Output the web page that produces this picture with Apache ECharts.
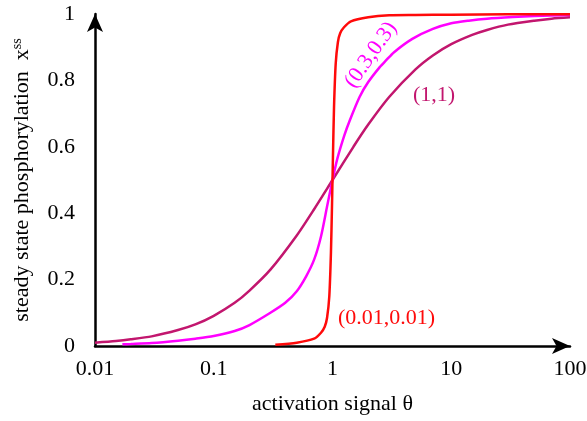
<!DOCTYPE html>
<html>
<head>
<meta charset="utf-8">
<script src="https://cdn.jsdelivr.net/npm/echarts@6/dist/echarts.min.js"></script>
<style>
  html, body { margin: 0; padding: 0; background: #fff; }
  #main { width: 587px; height: 421px; }
</style>
</head>
<body>
<div id="main"></div>
<script>
// values
var theta11 = [0.01, 0.015, 0.02, 0.03, 0.05, 0.07, 0.1, 0.15, 0.2, 0.3, 0.5, 0.7, 1, 1.5, 2, 3, 5, 7, 10, 15, 20, 30, 50, 70, 100];
var x11 = [0.01, 0.015, 0.02, 0.029, 0.048, 0.065, 0.091, 0.13, 0.167, 0.23, 0.333, 0.412, 0.5, 0.6, 0.667, 0.75, 0.833, 0.875, 0.909, 0.937, 0.952, 0.968, 0.98, 0.986, 0.99];

var theta03 = [0.017, 0.02, 0.03, 0.05, 0.07, 0.1, 0.15, 0.2, 0.3, 0.4, 0.5, 0.6, 0.7, 0.8, 0.9, 1, 1.1, 1.26, 1.4, 1.69, 2, 2.5, 2.82, 3.3, 4.7, 7, 10, 14, 20, 33, 50, 100];
var x03 = [0.005, 0.006, 0.009, 0.016, 0.022, 0.03, 0.045, 0.063, 0.1, 0.13, 0.165, 0.21, 0.26, 0.33, 0.42, 0.5, 0.565, 0.635, 0.68, 0.75, 0.795, 0.84, 0.86, 0.885, 0.925, 0.955, 0.972, 0.98, 0.986, 0.991, 0.994, 0.997];

var theta001 = [0.33, 0.5, 0.7, 0.8, 0.86, 0.9, 0.94, 0.97, 0.99, 1, 1.01, 1.03, 1.064, 1.11, 1.16, 1.25, 1.43, 2, 3, 5, 10, 30, 100];
var x001 = [0.004, 0.01, 0.022, 0.04, 0.058, 0.085, 0.15, 0.28, 0.42, 0.5, 0.58, 0.72, 0.85, 0.915, 0.942, 0.96, 0.978, 0.99, 0.996, 0.997, 0.998, 0.999, 0.9995];

var xTicks = [0.01, 0.1, 1, 10, 100];
var yTicks = [0, 0.2, 0.4, 0.6, 0.8, 1];
var curveNames = ["(0.01,0.01)", "(0.3,0.3)", "(1,1)"];

var FONT = "Liberation Serif";
var RED = "#ff0a0a", MAG = "#ff00ff", DARK = "#c2166e";

function pairs(xs, ys) {
  return xs.map(function (t, i) { return [t, ys[i]]; });
}

var chart = echarts.init(document.getElementById("main"));

function curve(name, data, color) {
  return {
    name: name,
    type: "line",
    data: data,
    showSymbol: false,
    smooth: 0.25,
    lineStyle: { color: color, width: 2.5 },
    z: 3
  };
}

var option = {
  animation: false,
  backgroundColor: "#fff",
  grid: { left: 95, right: 17, top: 14, bottom: 75, containLabel: false, outerBoundsMode: "none" },
  xAxis: {
    type: "log",
    logBase: 10,
    min: 0.01,
    max: 100,
    name: "activation signal θ",
    nameLocation: "middle",
    nameGap: 47,
    nameTextStyle: { fontFamily: FONT, fontSize: 22, color: "#000" },
    axisLine: { show: true, lineStyle: { color: "#000", width: 2.5 }, symbol: ["none", "arrow"], symbolSize: [12, 18] },
    axisTick: { show: false },
    splitLine: { show: false },
    axisLabel: {
      fontFamily: FONT, fontSize: 22, color: "#000", margin: 12,
      formatter: function (v) {
        var hit = xTicks.filter(function (t) { return Math.abs(Math.log10(t) - Math.log10(v)) < 1e-6; });
        return hit.length ? String(hit[0]) : "";
      }
    }
  },
  yAxis: {
    type: "value",
    min: 0,
    max: 1,
    interval: 0.2,
    name: "{a|steady state phosphorylation  x}{s|ss}",
    nameLocation: "middle",
    nameGap: 61,
    nameTextStyle: {
      fontFamily: FONT, fontSize: 22, color: "#000",
      rich: {
        a: { fontFamily: FONT, fontSize: 22, color: "#000" },
        s: { fontFamily: FONT, fontSize: 14, color: "#000", verticalAlign: "top", padding: [0, 0, 10, 0] }
      }
    },
    axisLine: { show: true, lineStyle: { color: "#000", width: 2.5 }, symbol: ["none", "arrow"], symbolSize: [12, 18] },
    axisTick: { show: false },
    splitLine: { show: false },
    axisLabel: {
      fontFamily: FONT, fontSize: 22, color: "#000", margin: 20,
      formatter: function (v) {
        var hit = yTicks.filter(function (t) { return Math.abs(t - v) < 1e-9; });
        return hit.length ? String(hit[0]) : "";
      }
    }
  },
  series: [
    curve(curveNames[2], pairs(theta11, x11), DARK),
    curve(curveNames[1], pairs(theta03, x03), MAG),
    curve(curveNames[0], pairs(theta001, x001), RED)
  ],
  graphic: [
    { type: "text", left: 338, top: 307, z: 10,
      style: { text: curveNames[0], fontFamily: FONT, fontSize: 22, fill: RED } },
    { type: "text", x: 371, y: 55, rotation: 55 * Math.PI / 180, z: 10,
      style: { text: curveNames[1], fontFamily: FONT, fontSize: 22, fill: MAG, align: "center", verticalAlign: "middle" } },
    { type: "text", left: 413, top: 84, z: 10,
      style: { text: curveNames[2], fontFamily: FONT, fontSize: 22, fill: DARK } }
  ]
};

chart.setOption(option);
</script>
</body>
</html>
